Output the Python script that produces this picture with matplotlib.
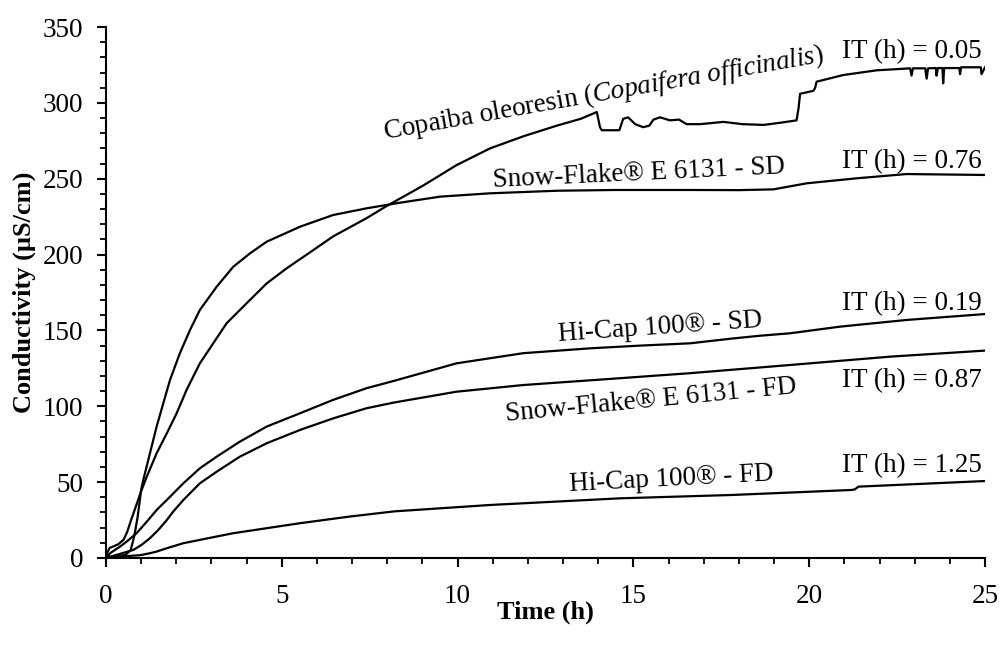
import matplotlib
matplotlib.use("Agg")
import matplotlib.pyplot as plt
from matplotlib.ticker import MultipleLocator

plt.rcParams['font.family'] = ['Liberation Serif', 'DejaVu Serif']
plt.rcParams['mathtext.fontset'] = 'custom'
plt.rcParams['mathtext.rm'] = 'Liberation Serif'
plt.rcParams['mathtext.it'] = 'Liberation Serif:style=italic'

# ---------------- data ----------------
copaiba_t = [0, 0.05, 0.1, 0.2, 0.35, 0.5, 0.6, 0.7, 0.85, 1.0, 1.16, 1.44, 1.73, 2.01,
             2.29, 2.67, 3.05, 3.43, 4.0, 4.57, 5.14, 5.71, 6.46, 7.41, 7.98, 9.02,
             9.97, 10.92, 11.87, 12.82, 13.5, 13.96, 14.05, 14.1, 14.6, 14.71, 14.85,
             15.05, 15.28, 15.45, 15.57, 15.76, 16.04, 16.3, 16.51, 16.9, 17.56, 18.1,
             18.7, 19.2, 19.64, 19.70, 19.74, 20.12, 20.17, 20.21, 20.97, 21.92, 22.87,
             22.91, 22.95, 23.3, 23.34, 23.38, 23.6, 23.62, 23.66, 23.79, 23.81, 23.84,
             24.27, 24.29, 24.32, 24.88, 24.9, 25.0]
copaiba_v = [0, 4, 6.5, 7.5, 9, 12, 17, 24, 34, 44, 53.6, 69, 82.2, 95.4,
             110.7, 128.3, 141.5, 154.7, 167.9, 181, 191, 200, 212, 224, 232, 245.5,
             259, 270, 278, 285, 289.5, 294, 284, 282, 282, 289.5, 290.5,
             286, 284, 285, 289, 290.5, 288.5, 289, 286, 286, 287.5, 286,
             285.5, 287, 288.5, 297, 306, 308, 310, 314, 318.4, 321.5, 322.8,
             318, 322.8, 322.8, 316, 322.8, 323, 318, 323, 323, 313, 323,
             323, 319, 323.5, 323.5, 319, 323.5]

sfsd_t = [0, 0.3, 0.55, 0.7, 0.8, 0.9, 1.0, 1.06, 1.25, 1.44, 1.63, 1.82, 2.1, 2.39,
          2.67, 3.15, 3.62, 4.1, 4.57, 5.52, 6.46, 7.41, 8.36, 9.5, 10.92, 12.82,
          14.5, 16.61, 18.0, 18.98, 19.93, 21.35, 22.77, 25.0]
sfsd_v = [0, 1, 2, 5, 14, 27, 45, 51.4, 69, 86.6, 102, 117.3, 134.9, 150.3,
          163.5, 178.9, 192, 200.9, 208.5, 218.4, 226.1, 230.5, 234.2, 238.2, 240.4, 242.1,
          242.6, 242.6, 242.5, 243, 247, 250.3, 253.1, 252.5]

hcsd_t = [0, 0.14, 0.4, 0.59, 0.87, 1.16, 1.44, 1.73, 2.2, 2.67, 3.15, 3.81, 4.57, 5.52,
          6.46, 7.41, 8.2, 9.97, 11.87, 13.77, 15.2, 16.61, 17.75, 18.6, 19.45, 20.88,
          22.77, 25.0]
hcsd_v = [0, 3.5, 7.5, 10.8, 16.3, 23.9, 31.6, 38.2, 49.2, 59.1, 66.8, 76.7, 86.6, 95.4,
          104.2, 111.9, 116.8, 128.3, 135, 138.2, 140, 141.5, 144.5, 146.5, 148.1, 152.5,
          156.9, 160.8]

sffd_t = [0, 0.3, 0.78, 1.01, 1.25, 1.49, 1.73, 1.91, 2.2, 2.67, 3.15, 3.81, 4.57, 5.52,
          6.46, 7.41, 8.2, 9.97, 11.87, 14.62, 16.61, 19.45, 22.3, 25.0]
sffd_v = [0, 2, 5.3, 8.6, 13, 18.5, 25, 30.5, 38.2, 49.2, 56.9, 66.8, 75.6, 84.4,
          92, 98.7, 102.5, 109.6, 114, 118.5, 121.8, 127.2, 132.7, 136.7]

hcfd_t = [0, 0.14, 0.78, 0.97, 1.25, 1.44, 1.73, 2.2, 2.67, 3.62, 4.57, 5.52, 6.94, 8.2,
          10.92, 14.62, 17.8, 21.2, 21.3, 21.4, 25.0]
hcfd_v = [0, 0.5, 1.5, 1.8, 3.1, 4.2, 6.4, 9.7, 11.9, 16.3, 19.6, 22.9, 27.3, 30.7,
          34.9, 39.3, 41.5, 44.8, 45.2, 47, 50.7]

series = [(copaiba_t, copaiba_v), (sfsd_t, sfsd_v), (hcsd_t, hcsd_v),
          (sffd_t, sffd_v), (hcfd_t, hcfd_v)]

labels = [r'Copaiba oleoresin ($\mathit{Copaifera\ officinalis}$)',
          'Snow-Flake® E 6131 - SD', 'Hi-Cap 100® - SD',
          'Snow-Flake® E 6131 - FD', 'Hi-Cap 100® - FD']
label_pos = [(14.14, 306, 10), (15.16, 253.8, 2.7), (15.76, 152, 4),
             (15.5, 104, 5.5), (16.07, 52, 3)]
it_texts = ['IT (h) = 0.05', 'IT (h) = 0.76', 'IT (h) = 0.19',
            'IT (h) = 0.87', 'IT (h) = 1.25']
it_v = [334, 261, 168, 117, 61]

# ---------------- figure ----------------
fig = plt.figure(figsize=(10, 6.45), dpi=100)
ax = fig.add_axes([0.106, 0.135, 0.879, 0.823])

for t, v in series:
    ax.plot(t, v, color='black', lw=1.6, solid_joinstyle='round')

for lab, (x, y, r) in zip(labels, label_pos):
    ax.text(x, y, lab, fontsize=19.5, ha='center', va='center', rotation=r,
            rotation_mode='anchor')
for txt, y in zip(it_texts, it_v):
    ax.text(24.9, y, txt, fontsize=19.5, ha='right', va='center')

ax.set_xlim(0, 25)
ax.set_ylim(0, 350)
ax.xaxis.set_major_locator(MultipleLocator(5))
ax.xaxis.set_minor_locator(MultipleLocator(1))
ax.yaxis.set_major_locator(MultipleLocator(50))
ax.yaxis.set_minor_locator(MultipleLocator(10))
for s in ['top', 'right']:
    ax.spines[s].set_visible(False)
for s in ['left', 'bottom']:
    ax.spines[s].set_linewidth(1.5)
ax.tick_params(which='major', direction='out', length=6.5, width=1.5,
               labelsize=19.5)
ax.tick_params(axis='y', which='major', pad=10)
ax.tick_params(axis='x', which='major', pad=12)
ax.tick_params(which='minor', direction='out', length=4.5, width=1.3)

ax.set_xlabel('Time (h)', fontsize=19, fontweight='bold', va='center')
ax.set_ylabel('Conductivity (µS/cm)', fontsize=19, fontweight='bold', va='center')
ax.xaxis.set_label_coords(0.5, -(612 - 558) / 531)
ax.yaxis.set_label_coords(-(106 - 24) / 879, 0.5)

fig.savefig('out.png', dpi=100)
